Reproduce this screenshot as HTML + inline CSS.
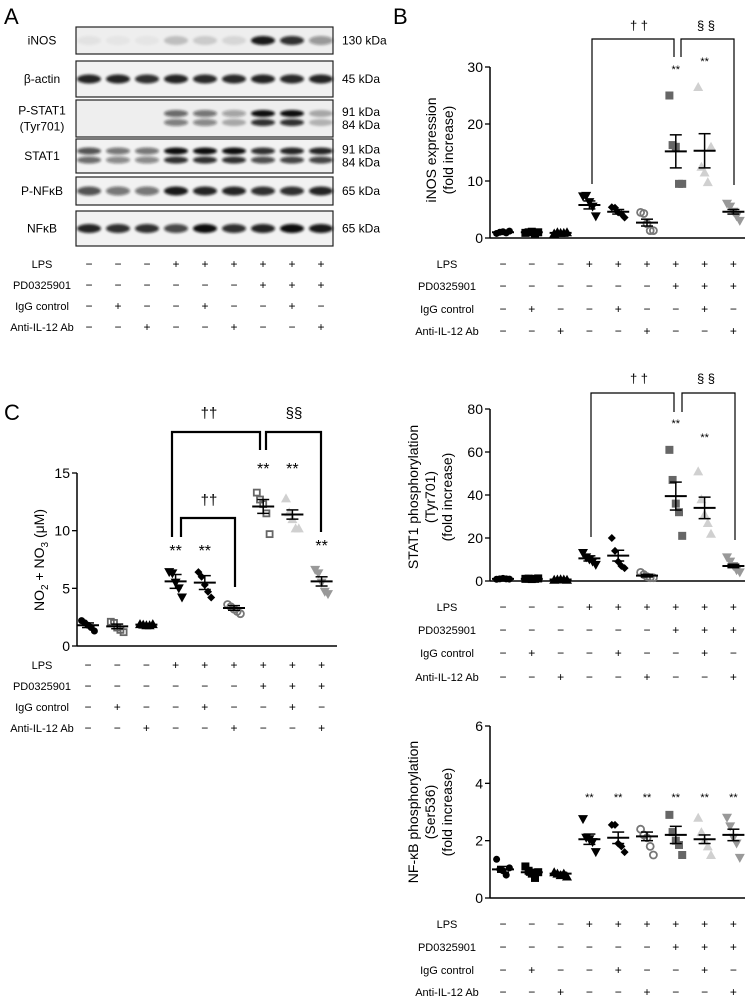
<!DOCTYPE html>
<html><head><meta charset="utf-8"><style>
html,body{margin:0;padding:0;background:#fff;}
svg{display:block;font-family:"Liberation Sans",sans-serif;}
</style></head><body>
<svg id="fig" width="752" height="999" viewBox="0 0 752 999" xmlns="http://www.w3.org/2000/svg">
<defs><filter id="blur" x="-20%" y="-50%" width="140%" height="200%"><feGaussianBlur stdDeviation="1.3"/></filter></defs>
<text x="4" y="24" font-size="22">A</text>
<text x="393" y="24" font-size="22">B</text>
<text x="4" y="420" font-size="22">C</text>
</svg>
<script>
// ---- shared treatment table ----
const rowLabels = ["LPS","PD0325901","IgG control","Anti-IL-12 Ab"];
const rowSigns = [
 ["-","-","-","+","+","+","+","+","+"],
 ["-","-","-","-","-","-","+","+","+"],
 ["-","+","-","-","+","-","-","+","-"],
 ["-","-","+","-","-","+","-","-","+"]
];
// ---- blot data (band intensities 0-1 per lane) ----
const blotNames = ["iNOS","β-actin","P-STAT1|(Tyr701)","STAT1","P-NFκB","NFκB"];
const blotKda = ["130 kDa","45 kDa","91 kDa|84 kDa","91 kDa|84 kDa","65 kDa","65 kDa"];
const blotIntensity = [
 [0.05,0.04,0.04,0.2,0.15,0.1,0.95,0.85,0.4],
 [0.9,0.9,0.85,0.9,0.88,0.88,0.9,0.88,0.9],
 [0,0,0,0.6,0.55,0.35,1,1,0.3],
 [0.7,0.55,0.55,1,1,1,0.85,0.9,0.9],
 [0.7,0.55,0.55,0.95,0.9,0.9,0.85,0.85,0.9],
 [0.9,0.85,0.85,0.75,1,0.85,0.9,1,0.95]
];
// ---- panel B: iNOS ----
const inosTicks = [0,10,20,30];
const inosMeans = [1,1,0.9,5.8,4.6,2.7,15.2,15.3,4.6];
const inosSem = [0.2,0.2,0.1,0.7,0.4,0.6,2.9,3.0,0.4];
const inosPoints = [[0.8,1,1.1,0.9,1.2],[0.9,1,1.1,0.8,1],[0.8,1,0.9,0.9,1],[7.3,7.4,6.3,5.5,3.8],[5.4,5.3,4.5,4.2,3.6],[4.5,4.3,2.5,1.3,1.3],[25,16.3,16,9.5,9.5],[26.5,12.5,11.5,9.8,16],[6,5.5,4.6,3.8,3]];
// ---- panel STAT1 ----
const statTicks = [0,20,40,60,80];
const statMeans = [1,1,0.7,10.5,11.8,2.5,39.5,34,7];
const statSem = [0.2,0.2,0.1,1.2,2.5,0.6,6.5,5,0.8];
const statPoints = [[0.8,1,1.2,1,0.9],[1,1.1,0.9,1,1.2],[0.6,0.7,0.8,0.7,0.6],[13,11,10,9,7.5],[20,14,9,7,6],[4,3,2,1.5,1.5],[61,47,36,32,21],[51,38,31,27,22],[11,9,7,5,4]];
// ---- panel NF-kB ----
const nfTicks = [0,2,4,6];
const nfMeans = [1,0.9,0.85,2.05,2.1,2.15,2.2,2.05,2.2];
const nfSem = [0.1,0.1,0.05,0.18,0.2,0.15,0.3,0.15,0.2];
const nfPoints = [[1.35,1,0.95,0.8,1.05],[1.1,0.95,0.85,0.7,0.9],[0.9,0.85,0.8,0.85,0.75],[2.75,2.1,2.05,1.95,1.6],[2.55,2.55,1.9,1.8,1.6],[2.4,2.2,2.1,1.8,1.5],[2.9,2.3,2.0,1.85,1.5],[2.8,2.3,2.0,1.8,1.5],[2.8,2.5,2.1,1.9,1.4]];
// ---- panel C: NO ----
const noTicks = [0,5,10,15];
const noMeans = [1.8,1.7,1.85,5.6,5.5,3.3,12.1,11.4,5.6];
const noSem = [0.2,0.2,0.05,0.6,0.6,0.2,0.6,0.4,0.4];
const noPoints = [[2.2,2,1.8,1.6,1.3],[2.1,2,1.6,1.4,1.2],[1.9,1.85,1.8,1.8,1.9],[6.4,6.3,5.5,5,4.2],[6.4,6,5.3,4.7,4.2],[3.6,3.4,3.2,3,2.8],[13.3,12.7,12.3,11.5,9.7],[12.8,11.6,11,10.2,10.2],[6.6,6.3,5.5,4.7,4.5]];

const NS="http://www.w3.org/2000/svg";
const svg=document.getElementById('fig');
function el(tag,attrs,parent){const e=document.createElementNS(NS,tag);for(const k in attrs)e.setAttribute(k,attrs[k]);(parent||svg).appendChild(e);return e;}
function txt(x,y,s,attrs,parent){const e=el('text',Object.assign({x:x,y:y},attrs||{}),parent);e.textContent=s;return e;}

// ---- blots ----
const laneX = i => 89 + 29*i;
const blotBoxes = [[27,54],[61,97],[100,137],[139,173],[177,205],[211,246]];
blotBoxes.forEach((b,r)=>{
  const g=el('g',{});
  
  
  el('rect',{x:76,y:b[0],width:257,height:b[1]-b[0],fill:(r==0||r==2)?'#eeeeee':'#f2f2f2',stroke:'#222','stroke-width':1.2},g);
  const mid=(b[0]+b[1])/2;
  blotIntensity[r].forEach((v,i)=>{
    if(v<=0)return;
    const dbl=(r==2||r==3);
    const ys=dbl?[mid-5,mid+4]:[mid];
    ys.forEach((yy,k)=>{
      const o=Math.min(1,v*(dbl&&k==1?0.85:1));
      const band=el('ellipse',{cx:laneX(i),cy:yy,rx:12,ry:dbl?3.5:4.5,fill:'#111','fill-opacity':o,filter:'url(#blur)'},g);
      
      
    });
  });
  const nm=blotNames[r].split('|');
  nm.forEach((s,k)=>{const t=txt(42,mid+4+(nm.length>1?(k-0.5)*16:0),s,{'font-size':12,'text-anchor':'middle'});});
  const kd=blotKda[r].split('|');
  kd.forEach((s,k)=>{const t=txt(342,mid+4+(kd.length>1?(k-0.5)*13:0),s,{'font-size':12});});
});

function table(labelX,x0,dx,ys){
  rowLabels.forEach((lab,r)=>{
    const t=txt(labelX,ys[r]+4,lab,{'font-size':11,'text-anchor':'middle'});
    
    
    rowSigns[r].forEach((s,i)=>{
      const c=txt(x0+dx*i,ys[r]+4,s=='+'?'+':'−',{'font-size':12,'text-anchor':'middle'});
      
      
    });
  });
}
table(42,89,29,[264,285,306,327]);

const styles=[
 {shape:'circle',fill:'#000',stroke:'none'},
 {shape:'square',fill:'#000',stroke:'none'},
 {shape:'up',fill:'#000',stroke:'none'},
 {shape:'down',fill:'#000',stroke:'none'},
 {shape:'diamond',fill:'#000',stroke:'none'},
 {shape:'circle',fill:'none',stroke:'#777'},
 {shape:'square',fill:'#666',stroke:'none'},
 {shape:'up',fill:'#d0d0d0',stroke:'none'},
 {shape:'down',fill:'#999',stroke:'none'}
];
function marker(g,x,y,st,open){
  const s=4; let e;
  const f=open&&st.shape=='square'?'none':st.fill;
  const sk=open&&st.shape=='square'?'#666':st.stroke;
  const sw=(f=='none')?1.8:0;
  if(st.shape=='circle')e=el('circle',{cx:x,cy:y,r:s-0.5,fill:f,stroke:sk,'stroke-width':sw},g);
  else if(st.shape=='square')e=el('rect',{x:x-s+(sw?1:0),y:y-s+(sw?1:0),width:2*s-(sw?2:0),height:2*s-(sw?2:0),fill:f,stroke:sk,'stroke-width':sw},g);
  else if(st.shape=='up')e=el('polygon',{points:`${x-s-1},${y+s} ${x+s+1},${y+s} ${x},${y-s-1}`,fill:f},g);
  else if(st.shape=='down')e=el('polygon',{points:`${x-s-1},${y-s} ${x+s+1},${y-s} ${x},${y+s+1}`,fill:f},g);
  else e=el('polygon',{points:`${x},${y-s} ${x+s},${y} ${x},${y+s} ${x-s},${y}`,fill:f},g);
  
  
}
function panel(cfg){
  const g=el('g',{});
  
  
  const ymax=cfg.ticks[cfg.ticks.length-1];
  const Y=v=>cfg.y0-(v/ymax)*(cfg.y0-cfg.yTop);
  const X=i=>cfg.gx0+cfg.gdx*i;
  el('line',{x1:cfg.ax,y1:cfg.y0,x2:cfg.ax,y2:cfg.yTop,stroke:'#000','stroke-width':1.5},g);
  el('line',{x1:cfg.ax,y1:cfg.y0,x2:cfg.xEnd,y2:cfg.y0,stroke:'#000','stroke-width':1.5},g);
  cfg.ticks.forEach(t=>{
    el('line',{x1:cfg.ax-5,y1:Y(t),x2:cfg.ax,y2:Y(t),stroke:'#000','stroke-width':1.3},g);
    const tl=txt(cfg.ax-7,Y(t)+5,String(t),{'font-size':14,'text-anchor':'end'},g);
    
    
  });
  cfg.points.forEach((arr,i)=>{
    const n=arr.length;
    arr.forEach((v,k)=>marker(g,X(i)+(k-(n-1)/2)*3.2,Y(v),styles[i],cfg.openSquare));
    const m=cfg.means[i],se=cfg.sem[i];
    el('line',{x1:X(i),y1:Y(m-se),x2:X(i),y2:Y(m+se),stroke:'#000','stroke-width':1.5},g);
    el('line',{x1:X(i)-6,y1:Y(m-se),x2:X(i)+6,y2:Y(m-se),stroke:'#000','stroke-width':1.5},g);
    el('line',{x1:X(i)-6,y1:Y(m+se),x2:X(i)+6,y2:Y(m+se),stroke:'#000','stroke-width':1.5},g);
    const ml=el('line',{x1:X(i)-11,y1:Y(m),x2:X(i)+11,y2:Y(m),stroke:'#000','stroke-width':2},g);
    
    
  });
  (cfg.stars||[]).forEach(s=>{
    const st=txt(X(s[0]),s[1],'**',{'font-size':cfg.starSize||11,'text-anchor':'middle'},g);
    
    
  });
  cfg.title.forEach((s,k)=>{
    const tx=cfg.titleX+k*17;
    const t=el('text',{x:tx,y:cfg.titleY,'font-size':14,'text-anchor':'middle',transform:`rotate(-90 ${tx} ${cfg.titleY})`},g);
    t.innerHTML=s;
    
    
  });
  return g;
}
function bracket(pts,w){const p=el('polyline',{points:pts,fill:'none',stroke:'#000','stroke-width':w||1.2});}
function label(x,y,s,fs){const t=txt(x,y,s,{'font-size':fs||13,'text-anchor':'middle'});}

// Panel B iNOS
panel({name:'inos-chart',ax:490,y0:238,yTop:67,xEnd:745,gx0:503,gdx:28.8,ticks:inosTicks,means:inosMeans,sem:inosSem,points:inosPoints,
 stars:[[6,73],[7,65]],title:['iNOS expression','(fold increase)'],titleX:436,titleY:150});
table(447,503,28.8,[264,286,309,331]);
bracket('592,184 592,39 674,39 674,57');bracket('681,57 681,39 734,39 734,185');
label(639,30,'† †');label(706,30,'§ §');

// STAT1 panel
panel({name:'stat1-chart',ax:490,y0:581,yTop:409,xEnd:745,gx0:503,gdx:28.8,ticks:statTicks,means:statMeans,sem:statSem,points:statPoints,
 stars:[[6,427],[7,441]],title:['STAT1 phosphorylation','(Tyr701)','(fold increase)'],titleX:418,titleY:497});
table(447,503,28.8,[607,630,653,677]);
bracket('591,537 591,393 674,393 674,412');bracket('682,412 682,393 735,393 735,540');
label(639,383,'† †');label(706,383,'§ §');

// NF-kB panel
panel({name:'nfkb-chart',ax:490,y0:898,yTop:726,xEnd:745,gx0:503,gdx:28.8,ticks:nfTicks,means:nfMeans,sem:nfSem,points:nfPoints,
 stars:[[3,801],[4,801],[5,801],[6,801],[7,801],[8,801]],title:['NF-κB phosphorylation','(Ser536)','(fold increase)'],titleX:418,titleY:812});
table(447,503,28.8,[924,947,970,992]);

// Panel C
panel({name:'no-chart',ax:77,y0:646,yTop:473,xEnd:337,gx0:88,gdx:29.2,ticks:noTicks,means:noMeans,sem:noSem,points:noPoints,openSquare:true,starSize:16,
 stars:[[3,556],[4,556],[6,474],[7,474],[8,551]],title:['NO<tspan font-size="10" dy="4">2</tspan><tspan dy="-4"> + NO</tspan><tspan font-size="10" dy="4">3</tspan><tspan dy="-4"> (μM)</tspan>'],titleX:44,titleY:560});
table(42,88,29.2,[665,686,707,728]);
bracket('172,537 172,432 260,432 260,450',2.2);bracket('266,450 266,432 321,432 321,532',2.2);
bracket('181,537 181,518 235,518 235,587',2.2);
label(209,418,'††',15);label(294,418,'§§',15);label(209,505,'††',15);
</script>
</body></html>
